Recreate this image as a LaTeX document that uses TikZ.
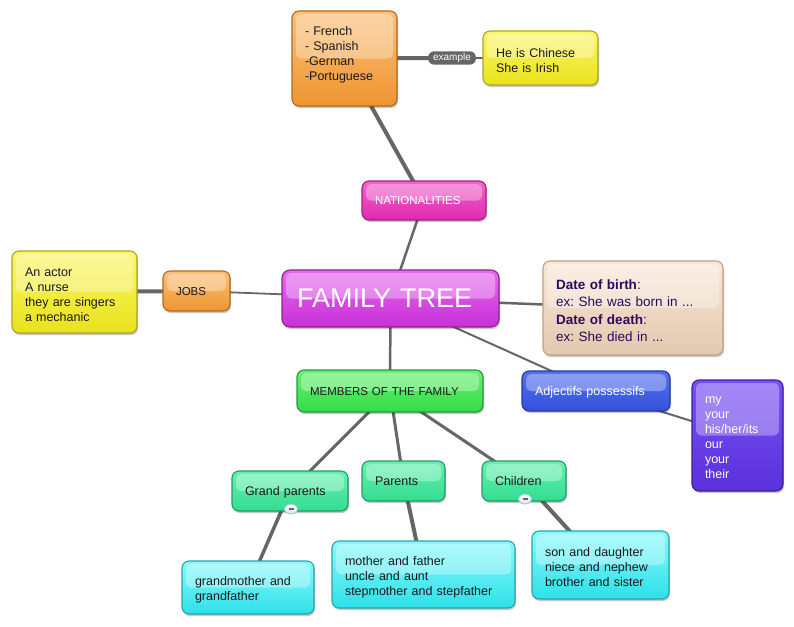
\documentclass[tikz,border=0pt]{standalone}
\usepackage{fontspec}
\setmainfont{Liberation Sans}
\frenchspacing
\usetikzlibrary{backgrounds,shadows,shapes.geometric}
\definecolor{conn}{HTML}{666666}
\definecolor{txt}{HTML}{1A1A1A}
\definecolor{datetxt}{HTML}{2B0B5A}
\definecolor{orT}{HTML}{FCC07A}\definecolor{orB}{HTML}{EE9530}\definecolor{orD}{HTML}{B0691F}
\definecolor{yeT}{HTML}{FBF76A}\definecolor{yeB}{HTML}{E9E21C}\definecolor{yeD}{HTML}{AAA525}
\definecolor{maT}{HTML}{F463CC}\definecolor{maB}{HTML}{DE2AB0}\definecolor{maD}{HTML}{A41E83}
\definecolor{ftT}{HTML}{E66AF0}\definecolor{ftB}{HTML}{C830D6}\definecolor{ftD}{HTML}{8E2296}
\definecolor{beT}{HTML}{F8E8D8}\definecolor{beB}{HTML}{E3C8AE}\definecolor{beD}{HTML}{BFA184}
\definecolor{blT}{HTML}{5472F0}\definecolor{blB}{HTML}{3550DC}\definecolor{blD}{HTML}{243A9C}
\definecolor{puT}{HTML}{7A50F5}\definecolor{puB}{HTML}{5A30DC}\definecolor{puD}{HTML}{3A1F98}
\definecolor{grT}{HTML}{66F070}\definecolor{grB}{HTML}{36DC48}\definecolor{grD}{HTML}{25993A}
\definecolor{miT}{HTML}{66F0B0}\definecolor{miB}{HTML}{34DC92}\definecolor{miD}{HTML}{24996A}
\definecolor{cyT}{HTML}{8AFAFC}\definecolor{cyB}{HTML}{2EE0E8}\definecolor{cyD}{HTML}{28A4AC}
\definecolor{coD}{HTML}{8FC8C8}\definecolor{coB}{HTML}{D8E4E4}
\tikzset{
  box/.style={rectangle, rounded corners=7pt, line width=1.1pt, align=left,
    inner xsep=13pt, inner ysep=0pt, text=txt,
    font=\fontsize{12.5}{15}\selectfont,
    execute at end node={\par\vspace{-5pt}},
    drop shadow={shadow xshift=1pt, shadow yshift=-2pt, opacity=.22, fill=black},
    path picture={\fill[white,opacity=.32,rounded corners=5pt]
      ([xshift=4pt,yshift=-3pt]path picture bounding box.north west) rectangle
      ([xshift=-4pt]path picture bounding box.east);}},
  col/.style={top color=#1T, bottom color=#1B, draw=#1D},
  caps/.style={font=\fontsize{11.5}{14}\selectfont},
  link/.style={draw=conn, line width=#1},
  collapse/.style={ellipse, draw=coD, line width=.8pt, top color=white, bottom color=coB,
    inner sep=0pt, minimum width=13pt, minimum height=10pt},
}
\begin{document}
\begin{tikzpicture}[x=1pt,y=-1pt]
\useasboundingbox (0,0) rectangle (794,626);

\node[box,col=or,minimum height=95pt,text width=79pt] (lang) at (344.5,58.5)
  {- French\\- Spanish\\-German\\-Portuguese\\\mbox{}};
\node[fill=conn, rounded corners=6pt, text=white, inner xsep=5pt, inner ysep=2pt,
  font=\fontsize{10}{11}\selectfont] (ex) at (452,58) {example};
\node[box,col=ye,minimum height=54pt,text width=89pt] (chin) at (540.5,58)
  {He is Chinese\\She is Irish};
\node[box,col=ma,caps,text=white,minimum height=39pt,text width=98pt] (nat) at (424,200.5)
  {NATIONALITIES};
\node[box,col=ft,text=white,rounded corners=8pt,inner xsep=15pt,minimum height=57pt,text width=187pt,
  font=\fontsize{27}{30}\selectfont] (ft) at (390.5,298.5) {FAMILY TREE};
\node[box,col=or,caps,minimum height=40pt,text width=41pt] (jobs) at (196.5,291) {JOBS};
\node[box,col=ye,minimum height=82pt,text width=99pt] (jobsy) at (74.5,292)
  {An actor\\A nurse\\they are singers\\a mechanic};
\node[box,col=be,text=datetxt,minimum height=94pt,text width=154pt,
  font=\fontsize{13.5}{17.5}\selectfont] (date) at (633,308)
  {\textbf{Date of birth}:\\ex: She was born in ...\\\textbf{Date of death}:\\ex: She died in ...};
\node[box,col=bl,text=white,minimum height=40pt,text width=122pt] (adj) at (596,391)
  {Adjectifs possessifs};
\node[box,col=pu,text=white,minimum height=111pt,text width=65pt] (purp) at (737.5,435.5)
  {my\\your\\his/her/its\\our\\your\\their};
\node[box,col=gr,caps,minimum height=42pt,text width=160pt] (mem) at (390,391)
  {MEMBERS OF THE FAMILY};
\node[box,col=mi,minimum height=40pt,text width=90pt] (gp) at (290,491) {Grand parents};
\node[box,col=mi,minimum height=40pt,text width=57pt] (par) at (403.5,481) {Parents};
\node[box,col=mi,minimum height=40pt,text width=58pt] (chi) at (524,481) {Children};
\node[box,col=cy,minimum height=53pt,text width=106pt] (gm) at (248,587.5)
  {grandmother and\\grandfather};
\node[box,col=cy,minimum height=67pt,text width=157pt] (mot) at (423.5,574.5)
  {mother and father\\uncle and aunt\\stepmother and stepfather};
\node[box,col=cy,minimum height=68pt,text width=111pt] (son) at (600.5,565)
  {son and daughter\\niece and nephew\\brother and sister};

\node[collapse] (gpc) at (291,509) {};
\node[collapse] (chic) at (525,499) {};
\draw[conn, line width=1.4pt] ([xshift=-2.5pt]gpc.center) -- ([xshift=2.5pt]gpc.center);
\draw[conn, line width=1.4pt] ([xshift=-2.5pt]chic.center) -- ([xshift=2.5pt]chic.center);

\begin{scope}[on background layer]
  \fill[white] (0,0) rectangle (794,626);
  \draw[link=4pt] (lang.center) -- (nat.center);
  \draw[link=4pt] (lang.center) -- (ex.center);
  \draw[link=1.5pt] (ex.center) -- (chin.center);
  \draw[link=2.5pt] (nat.center) -- (ft.center);
  \draw[link=1.8pt] (jobs.center) -- (ft.center);
  \draw[link=4pt] (jobsy.center) -- (jobs.center);
  \draw[link=2.5pt] (ft.center) -- (date.center);
  \draw[link=2pt] (ft.center) -- (adj.center);
  \draw[link=2pt] (adj.center) -- (purp.center);
  \draw[link=2.5pt] (ft.center) -- (mem.center);
  \draw[link=3pt] (mem.center) -- (gp.center);
  \draw[link=3pt] (mem.center) -- (par.center);
  \draw[link=3pt] (mem.center) -- (chi.center);
  \draw[link=3.5pt] (gp.center) -- (gm.center);
  \draw[link=4pt] (par.center) -- (mot.center);
  \draw[link=4pt] (chi.center) -- (son.center);
\end{scope}
\end{tikzpicture}
\end{document}
